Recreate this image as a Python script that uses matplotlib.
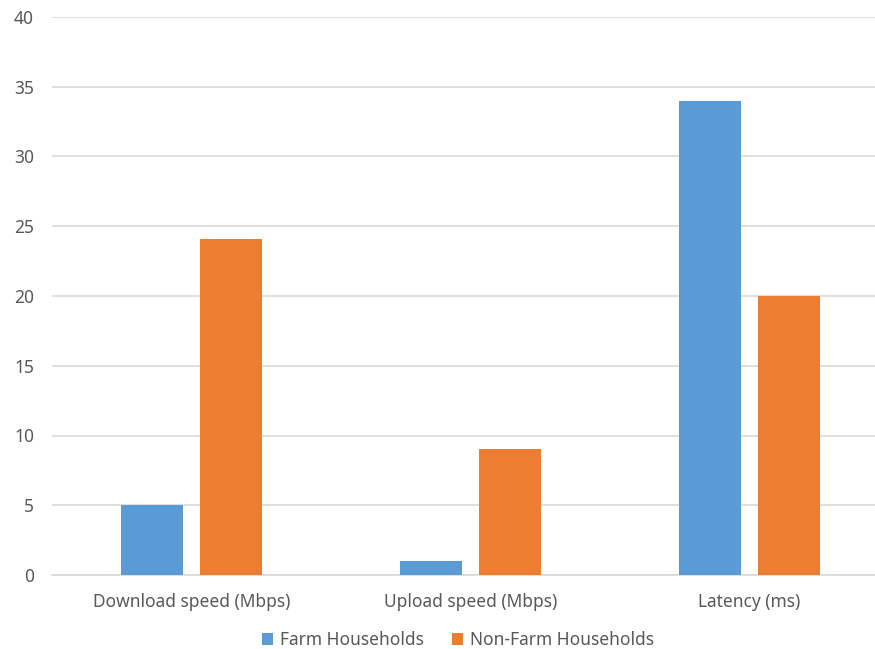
import matplotlib.pyplot as plt
import numpy as np

# data
categories = ['Download speed (Mbps)', 'Upload speed (Mbps)', 'Latency (ms)']
farm = [5, 1, 34]
non_farm = [24.1, 9, 20]
series_names = ['Farm Households', 'Non-Farm Households']

BLUE = '#5B9BD5'
ORANGE = '#ED7D31'
TEXT = '#595959'
GRID = '#D9D9D9'

plt.rcParams['font.family'] = ['Noto Sans', 'DejaVu Sans']

fig = plt.figure(figsize=(8.75, 6.49), dpi=100)
ax = fig.add_axes([52 / 875, 1 - 575 / 649, 1 - 52 / 875, (575 - 17) / 649])

x = np.arange(len(categories))
width = 0.222
offset = 0.1416
ax.bar(x - offset, farm, width, color=BLUE, label=series_names[0], zorder=3)
ax.bar(x + offset, non_farm, width, color=ORANGE, label=series_names[1], zorder=3)

ax.set_xlim(-0.5, 2.45)
ax.set_ylim(0, 40)
ax.set_yticks(range(0, 41, 5))
ax.set_xticks(x)
ax.set_xticklabels(categories)
ax.yaxis.grid(True, color=GRID, linewidth=1.2, zorder=0)
ax.tick_params(axis='both', length=0, colors=TEXT, labelsize=12.5)
ax.tick_params(axis='y', pad=13)
ax.tick_params(axis='x', pad=13)
for side in ['top', 'right', 'left']:
    ax.spines[side].set_visible(False)
ax.spines['bottom'].set_color(GRID)
ax.spines['bottom'].set_linewidth(1.2)

fig.legend(loc='center', bbox_to_anchor=(458 / 875, 1 - 640 / 649), ncol=2,
           frameon=False, fontsize=12.5, labelcolor=TEXT,
           handlelength=0.65, handleheight=0.65, handletextpad=0.4, columnspacing=1.6)

fig.savefig('out.png', dpi=100)
